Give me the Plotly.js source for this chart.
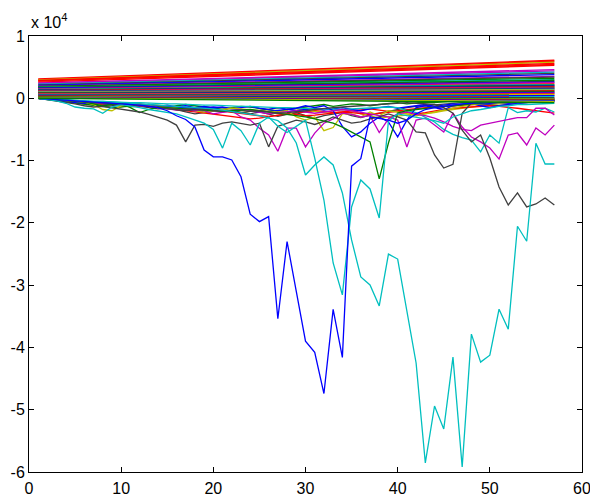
<!DOCTYPE html>
<html>
<head>
<meta charset="utf-8">
<script src="https://cdn.plot.ly/plotly-3.0.1.min.js"></script>
<style>html,body{margin:0;padding:0;background:#fff;}#chart{width:590px;height:497px;}</style>
</head>
<body>
<div id="chart"></div>
<script>
// ---- data ----
const days = [1,2,3,4,5,6,7,8,9,10,11,12,13,14,15,16,17,18,19,20,21,22,23,24,25,26,27,28,29,30,
  31,32,33,34,35,36,37,38,39,40,41,42,43,44,45,46,47,48,49,50,51,52,53,54,55,56,57];

// straight-ish band of series: value at day 1 and at day 57
const bandDays = [1, 57];
const bandStart = [3100,3000,2950,2850,2750,2600,2450,2350,2250,2150,2050,1950,1900,1850,1750,1700,1650,1600,1500,1450,
  1400,1350,1300,1250,1200,1150,1100,1050,1000,950,900,850,800,750,700,650,600,550,500,450,400,350,300,250,200,150,100,50,0];
const bandEnd = [6100,5950,5800,5600,5450,5300,4600,4400,4200,4000,3800,3500,3400,3200,3000,2900,2700,2600,2500,2300,
  2200,2100,2000,1900,1800,1700,1600,1500,1400,1300,1200,1100,1000,900,800,700,600,500,400,300,200,100,0,-100,-200,-300,-400,-500,-700];
const bandColor = ['r','r','y','r','r','r','m','m','c','k','b','m','k','g','c','g','k','b','m','r','c','g','b','k','r',
  'm','g','b','y','c','r','g','k','b','m','r','y','g','b','c','r','k','b','y','g','r','b','y','g'];

const blueDeep = [0,-100,-200,-300,-300,-400,-500,-600,-700,-800,
  -900,-1100,-1300,-1500,-2000,-2800,-3400,-4600,-8300,-9400,
  -9400,-9900,-12600,-18600,-19800,-19000,-35400,-23000,-31000,-39000,
  -40800,-47400,-33900,-41600,-10900,-9700,-3000,-3200,-3500,-4000,
  -3500,-2500,-1800,-1500,-1300,-1000,-900,-800,-700,-800,
  -600,-500,-500,-400,-400,-300,-300];
const cyanDeep = [0,-100,-200,-300,-300,-400,-500,-500,-600,-700,
  -800,-800,-900,-1000,-1100,-1200,-1300,-1400,-1500,-1700,
  -1900,-2100,-2300,-2500,-2800,-3200,-3600,-4780,-7180,-12310,
  -10710,-9420,-10710,-15200,-22740,-28680,-29960,-33340,-25010,-25810,
  -34480,-42500,-58550,-49400,-53100,-41560,-59200,-37870,-42360,-41240,
  -33860,-37070,-20540,-22950,-7220,-10550,-10550];
const cyanMid = [0,-200,-400,-800,-1400,-1600,-1700,-2400,-1400,-1000,
  -1200,-1500,-1800,-2000,-2200,-2500,-3000,-3500,-4000,-5000,
  -8000,-4000,-5200,-7500,-4000,-3000,-4500,-5500,-4500,-3500,
  -9600,-16330,-26440,-31570,-17450,-13110,-14560,-19210,-3640,-2500,
  -2800,-3000,-3300,-3600,-4000,-3000,-2500,-2000,-1800,-1500,
  -1300,-1200,-1000,-1000,-900,-800,-800];
const grayEnd = [0,-100,-200,-300,-400,-500,-600,-700,-800,-900,
  -1000,-1100,-1300,-1500,-1700,-1900,-2000,-1800,-1700,-1900,
  -2000,-2200,-2300,-2100,-2000,-2200,-2400,-2300,-2200,-2000,
  -1800,-1600,-1500,-1400,-1300,-1200,-1100,-1000,-900,-800,
  -700,-800,-900,-1000,-1500,-2400,-5100,-7000,-5900,-9600,
  -14240,-17130,-15200,-17450,-16970,-16000,-17130];
const grayV = [0,-200,-400,-600,-900,-1200,-1400,-1300,-1500,-1800,
  -2000,-2200,-2600,-3000,-3500,-4300,-7000,-4300,-4200,-4500,
  -4000,-3800,-4000,-4300,-4000,-7800,-4500,-4000,-3500,-3800,
  -4200,-3700,-3000,-3500,-4000,-3800,-3300,-3000,-2500,-3000,
  -3500,-5400,-5560,-9100,-11200,-10600,-2400,-750,-500,-400,
  -300,-300,-200,-200,-100,-100,0];
const greenDip = [0,-100,-200,-300,-400,-600,-900,-1200,-1000,-800,
  -1500,-2300,-1800,-1400,-1500,-1600,-1700,-1800,-1900,-2000,
  -2100,-2000,-1900,-1800,-2000,-2200,-2300,-2500,-2800,-3000,
  -3300,-3600,-4000,-4620,-5430,-6200,-7000,-12950,-7180,-2360,
  -2000,-1800,-1600,-1500,-1300,-1200,-1000,-900,-800,-700,
  -600,-500,-500,-400,-400,-300,-300];
const magentaRight = [0,-100,-200,-300,-400,-500,-600,-700,-800,-900,
  -1000,-1100,-1200,-1300,-1500,-1700,-1900,-2000,-1800,-2000,
  -2200,-2000,-1800,-2000,-2300,-2500,-2300,-2100,-2000,-2200,
  -2400,-2200,-2000,-1800,-2000,-2200,-2500,-2800,-3000,-3500,
  -7830,-3500,-3180,-4300,-5430,-2380,-4610,-6210,-7000,-7990,
  -9760,-5900,-5570,-7500,-4770,-5890,-4300];
const magentaMid = [0,-100,-200,-300,-400,-500,-600,-700,-800,-900,
  -1000,-1100,-1300,-1500,-1700,-1900,-1700,-1900,-2000,-2500,
  -2200,-2000,-3000,-3500,-4800,-5900,-8500,-4800,-4800,-7800,
  -5600,-4000,-3300,-2400,-2600,-3000,-2800,-5500,-3300,-2500,
  -2200,-2600,-2800,-3200,-3800,-4500,-5000,-5200,-4300,-4000,
  -3600,-3300,-3100,-3100,-1600,-1600,-2700];
const yellowV = [0,-100,-200,-300,-400,-600,-1000,-1800,-2000,-1200,
  -1000,-1100,-1300,-1400,-1500,-1600,-1800,-2000,-2200,-2000,
  -1800,-1600,-1700,-1900,-2000,-2100,-2200,-2000,-3000,-3500,
  -3000,-5200,-4700,-2500,-2500,-3000,-2200,-2800,-2000,-2200,
  -2500,-2800,-2500,-2200,-1800,-1500,-1200,-1000,-900,-800,
  -700,-600,-500,-500,-400,-400,-300];
const blueMid = [0,-100,-100,-200,-300,-400,-500,-600,-700,-800,
  -900,-1000,-1100,-1200,-1300,-1400,-1500,-1600,-1500,-1400,
  -1500,-1700,-1900,-2000,-2200,-2100,-2000,-1800,-1600,-1200,
  -1500,-1200,-2000,-4500,-6200,-5400,-4000,-3000,-3800,-6200,
  -3500,-1500,-1200,-1500,-1800,-1200,-1000,-800,-1200,-1500,
  -1200,-1000,-800,-600,-500,-400,-300];
const redLow = [0,-100,-200,-300,-400,-500,-600,-700,-800,-900,
  -1000,-1100,-1200,-1400,-1600,-1800,-2000,-2200,-2400,-2600,
  -2800,-3000,-3200,-3300,-3200,-3000,-2800,-2500,-2600,-2800,
  -2700,-2500,-2400,-2200,-2300,-2500,-2600,-2400,-2200,-2100,
  -2300,-2500,-2300,-2000,-1800,-1600,-1500,-1400,-1300,-1200,
  -1300,-1400,-1600,-1800,-2000,-2200,-2400];
const cyanRight = [0,-100,-200,-300,-300,-400,-500,-500,-600,-600,
  -700,-700,-800,-800,-900,-900,-1000,-1000,-1100,-1100,
  -1200,-1200,-1300,-1300,-1400,-1400,-1500,-1500,-1600,-1600,
  -1700,-1700,-1800,-1800,-1700,-1600,-1500,-1400,-1400,-1500,
  -2000,-2300,-3000,-3800,-5000,-5800,-6300,-6700,-8600,-5900,
  -7200,-1500,-2300,-2000,-2200,-1600,-2200];
const blueSmall = [0,-100,-300,-500,-600,-800,-700,-900,-1000,-800,
  -900,-1200,-1000,-1300,-1100,-1400,-1200,-1500,-1300,-1600,
  -1400,-1700,-1500,-1300,-1600,-1800,-1500,-1700,-2000,-1800,
  -1600,-1900,-1700,-1500,-1800,-2000,-1700,-1500,-1300,-1600,
  -1400,-1200,-1000,-1300,-1100,-900,-1000,-800,-1100,-900,
  -700,-800,-600,-700,-500,-600,-500];
const greenSmall = [0,-200,-400,-600,-700,-900,-1100,-1300,-1500,-1400,
  -1200,-1000,-1100,-1300,-1500,-1200,-1000,-1200,-1400,-1600,
  -1800,-1500,-1300,-1400,-1600,-1900,-2100,-1800,-1600,-1400,
  -1200,-1000,-1300,-1100,-900,-1000,-1200,-1000,-800,-700,
  -900,-800,-600,-700,-500,-400,-600,-700,-500,-400,
  -300,-400,-500,-400,-300,-200,-300];
const graySmall = [0,-150,-300,-500,-700,-900,-1100,-1300,-1200,-1000,
  -1100,-1300,-1500,-1700,-1600,-1800,-2200,-2500,-2300,-2000,
  -1800,-2000,-2300,-2500,-2200,-2600,-2900,-2600,-2300,-2800,
  -3200,-2800,-2500,-2300,-2800,-3100,-2700,-2400,-2000,-1800,
  -1500,-1300,-1200,-1000,-900,-800,-700,-900,-1000,-1100,
  -1200,-1000,-800,-700,-600,-500,-500];
const yellowSmall = [0,-100,-200,-400,-500,-700,-900,-800,-1000,-1200,
  -1400,-1200,-1000,-1100,-1300,-1500,-1700,-1500,-1300,-1600,
  -1800,-2000,-2300,-2100,-1900,-1700,-1600,-1500,-1700,-1900,
  -2100,-2300,-2000,-1800,-2000,-2500,-2800,-3200,-3000,-2800,
  -2700,-2600,-2500,-2300,-2000,-1800,-1500,-1300,-1100,-1000,
  -900,-800,-700,-600,-500,-400,-300];
const redSmall = [0,-100,-200,-300,-400,-600,-800,-1000,-900,-800,
  -700,-900,-1100,-1300,-1500,-1700,-1600,-1500,-1700,-1900,
  -2100,-2300,-2500,-2600,-2800,-2900,-2700,-2500,-2300,-2200,
  -2000,-2100,-2300,-2200,-2000,-1800,-1700,-1900,-2100,-2000,
  -1800,-1600,-1500,-1400,-1300,-1200,-1100,-1000,-900,-800,
  -700,-700,-600,-600,-500,-500,-400];

const xTicks = [0,10,20,30,40,50,60];
const yTicks = [10000,0,-10000,-20000,-30000,-40000,-50000,-60000];
const yTickText = ['1','0','-1','-2','-3','-4','-5','-6'];

// ---- styling ----
const palette = {b:'#0000ff', g:'#008000', r:'#ff0000', c:'#00bfbf', m:'#bf00bf', y:'#bfbf00', k:'#404040'};
const ragged = [
  [redSmall,'r'],[yellowSmall,'y'],[graySmall,'k'],[greenSmall,'g'],[blueSmall,'b'],
  [redLow,'r'],[cyanRight,'c'],[blueMid,'b'],[yellowV,'y'],[magentaMid,'m'],[magentaRight,'m'],
  [greenDip,'g'],[grayV,'k'],[grayEnd,'k'],[cyanMid,'c'],[cyanDeep,'c'],[blueDeep,'b']
];

const traces = [];
ragged.forEach(([ys, c]) => {
  traces.push({x: days, y: ys, type: 'scatter', mode: 'lines',
    line: {color: palette[c], width: 1.3}, hoverinfo: 'skip'});
});
bandStart.forEach((s, i) => {
  traces.push({x: bandDays, y: [s, bandEnd[i]], type: 'scatter', mode: 'lines',
    line: {color: palette[bandColor[i]], width: 1.4}, hoverinfo: 'skip'});
});

const fontFam = 'Liberation Sans, Arial, Helvetica, sans-serif';
const axisCommon = {
  showline: true, linecolor: '#000', linewidth: 1, mirror: 'ticks',
  ticks: 'inside', ticklen: 5, tickwidth: 1, tickcolor: '#000',
  showgrid: false, zeroline: false, ticklabeloverflow: 'allow',
  tickfont: {family: fontFam, size: 16, color: '#000'}
};
const layout = {
  width: 590, height: 497,
  margin: {l: 29, r: 8, t: 36, b: 25, pad: 0},
  paper_bgcolor: '#fff', plot_bgcolor: '#fff',
  showlegend: false,
  xaxis: Object.assign({}, axisCommon, {range: [0, 60], tickvals: xTicks, ticktext: xTicks.map(String), ticklabelstandoff: 2}),
  yaxis: Object.assign({}, axisCommon, {range: [-60000, 10000], tickvals: yTicks, ticktext: yTickText}),
  annotations: [{
    xref: 'paper', yref: 'paper', x: 0, y: 1, xanchor: 'left', yanchor: 'bottom',
    yshift: 3, showarrow: false, text: 'x 10<sup>4</sup>',
    font: {family: fontFam, size: 16, color: '#000'}
  }]
};
Plotly.newPlot('chart', traces, layout, {staticPlot: true, displayModeBar: false});
</script>
</body>
</html>
